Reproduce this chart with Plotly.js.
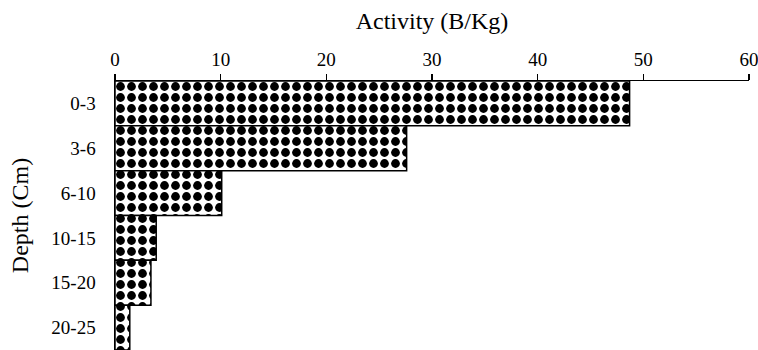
<!DOCTYPE html>
<html>
<head>
<meta charset="utf-8">
<script src="https://cdn.plot.ly/plotly-3.0.1.min.js"></script>
<style>html,body{margin:0;padding:0;background:#fff;}#chart{width:758px;height:350px;}</style>
</head>
<body>
<div id="chart"></div>
<script>
const depths = ["0-3", "3-6", "6-10", "10-15", "15-20", "20-25"];
const activity = [48.7, 27.6, 10.1, 3.9, 3.4, 1.4];
const xTicks = [0, 10, 20, 30, 40, 50, 60];

const trace = {
  type: "bar",
  orientation: "h",
  y: depths,
  x: activity,
  marker: {
    color: "#ffffff",
    line: {color: "#000000", width: 1.5},
    pattern: {shape: ".", fgcolor: "#000000", bgcolor: "#ffffff", size: 11, solidity: 0.5, fillmode: "replace"}
  },
  hoverinfo: "skip"
};

const layout = {
  width: 758,
  height: 350,
  margin: {l: 115, r: 9, t: 81, b: 0},
  paper_bgcolor: "#ffffff",
  plot_bgcolor: "#ffffff",
  bargap: 0,
  showlegend: false,
  font: {family: "Liberation Serif, Times New Roman, serif", color: "#000000", size: 19},
  xaxis: {
    side: "top",
    range: [0, 60],
    tickvals: xTicks,
    ticktext: xTicks.map(String),
    ticklabeloverflow: "allow",
    showgrid: false,
    zeroline: false,
    showline: true,
    linecolor: "#000000",
    linewidth: 1.5,
    ticks: "outside",
    ticklen: 6,
    tickwidth: 1.5,
    tickcolor: "#000000",
    tickfont: {size: 19},
    title: {text: "Activity (B/Kg)", font: {size: 24}, standoff: 12}
  },
  yaxis: {
    type: "category",
    autorange: "reversed",
    showgrid: false,
    zeroline: false,
    showline: true,
    linecolor: "#000000",
    linewidth: 1.5,
    ticks: "",
    ticklabelstandoff: 14,
    tickfont: {size: 19},
    title: {text: "Depth (Cm)", font: {size: 24}, standoff: 16}
  }
};

Plotly.newPlot("chart", [trace], layout, {displayModeBar: false, staticPlot: true});
</script>
</body>
</html>
